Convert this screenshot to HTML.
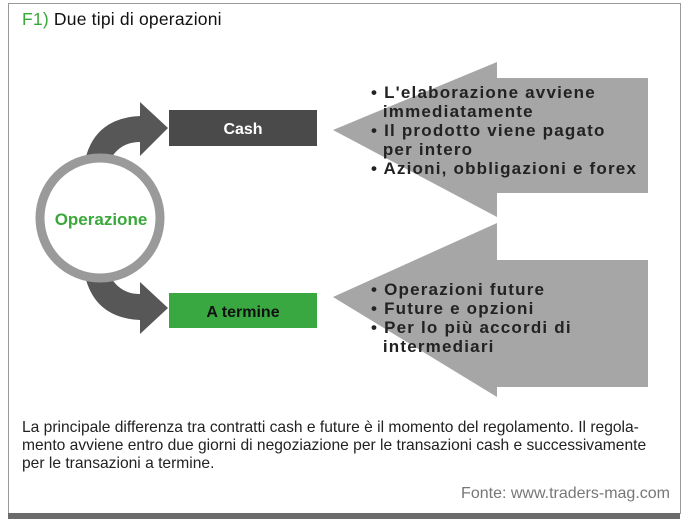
<!DOCTYPE html>
<html><head><style>
body{margin:0;width:692px;height:530px;background:#fff;position:relative;overflow:hidden;font-family:"Liberation Sans",sans-serif}
.frame{position:absolute;left:8px;top:3px;width:671px;height:510px;border:1px solid #9a9a9a;border-bottom:none}
.bar{position:absolute;left:8px;top:513px;width:672px;height:6px;background:#6b6b6b}
.title{position:absolute;left:22px;top:9px;font-size:17.5px;color:#111;letter-spacing:0.2px}
.title span{color:#3aa83a}
.t{position:absolute;font-weight:bold;font-size:17px;line-height:19px;color:#222;letter-spacing:1.2px;white-space:nowrap}
.cap{position:absolute;left:22px;top:419px;width:660px;font-size:15.6px;line-height:18px;color:#222;white-space:nowrap}
.src{position:absolute;right:22px;top:485px;font-size:16px;color:#777}
</style></head><body>
<div class="frame"></div><div class="bar"></div>
<div class="title"><span>F1)</span> Due tipi di operazioni</div>
<svg width="692" height="530" style="position:absolute;left:0;top:0">
<path d="M85,160 Q95,118 140,116 L140,102 L168,128 L140,156 L140,142 Q120,142 110,160 Z" fill="#575757"/>
<path d="M85,276 Q95,318 140,320 L140,334 L168,308 L140,282 L140,294 Q120,294 110,276 Z" fill="#575757"/>
<circle cx="100" cy="218" r="60" fill="#fff" stroke="#9a9a9a" stroke-width="9"/>
<text x="101" y="225" text-anchor="middle" font-family="Liberation Sans, sans-serif" font-weight="bold" font-size="17" fill="#3aa83a">Operazione</text>
<rect x="169" y="110" width="148" height="36" fill="#4a4a4a"/>
<text x="243" y="134" text-anchor="middle" font-family="Liberation Sans, sans-serif" font-weight="bold" font-size="16" fill="#fff">Cash</text>
<rect x="169" y="293" width="148" height="35" fill="#3aa840"/>
<text x="243" y="317" text-anchor="middle" font-family="Liberation Sans, sans-serif" font-weight="bold" font-size="16" fill="#111">A termine</text>
<polygon points="333,130 497,62 497,78 648,78 648,193 497,193 497,217" fill="#a6a6a6"/>
<polygon points="333,297 497,223 497,260 648,260 648,387 497,387 497,397" fill="#a6a6a6"/>
</svg>
<div class="t" style="left:371px;top:83px">• L'elaborazione avviene<br>&nbsp;&nbsp;immediatamente<br>• Il prodotto viene pagato<br>&nbsp;&nbsp;per intero<br>• Azioni, obbligazioni e forex</div>
<div class="t" style="left:371px;top:280px">• Operazioni future<br>• Future e opzioni<br>• Per lo più accordi di<br>&nbsp;&nbsp;intermediari</div>
<div class="cap">La principale differenza tra contratti cash e future è il momento del regolamento. Il regola-<br>mento avviene entro due giorni di negoziazione per le transazioni cash e successivamente<br>per le transazioni a termine.</div>
<div class="src">Fonte: www.traders-mag.com</div>
</body></html>
